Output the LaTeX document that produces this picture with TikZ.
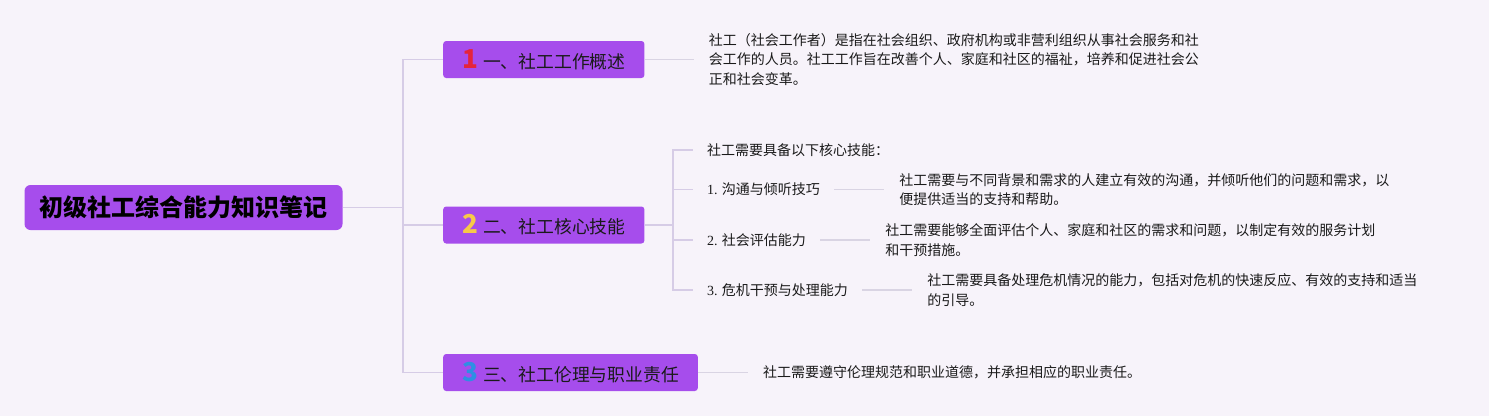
\documentclass[tikz,border=0pt]{standalone}
\usepackage{fontspec}
\setmainfont{Noto Sans CJK SC}
\newfontfamily\numfont{Liberation Serif}
\usetikzlibrary{positioning}

\definecolor{bgcol}{HTML}{F7F3FA}
\definecolor{boxcol}{HTML}{A64DEC}
\definecolor{linecol}{HTML}{D6CCE6}
\definecolor{stubcol}{HTML}{D9D4E3}
\definecolor{txtcol}{HTML}{1A1A1A}
\definecolor{onecol}{HTML}{E5243B}
\definecolor{twocol}{HTML}{F7C948}
\definecolor{threecol}{HTML}{2E8FE3}

\newcommand{\topicnum}[2]{{\fontsize{26}{26}\selectfont\bfseries\color{#1}#2}\hspace{5pt}}

\begin{document}
\begin{tikzpicture}[x=1pt,y=-1pt,
	root/.style={fill=boxcol,rounded corners=6pt,inner xsep=15pt,minimum height=45pt,
		font=\fontsize{24}{26}\selectfont\bfseries},
	topic/.style={fill=boxcol,rounded corners=3pt,inner xsep=19pt,minimum height=37pt,
		anchor=west,text=txtcol,font=\fontsize{17.8}{20}\selectfont},
	sub/.style={anchor=west,inner xsep=14pt,text=txtcol,font=\fontsize{14}{16}\selectfont},
	desc/.style={align=left,inner xsep=15pt,text=txtcol,font=\fontsize{14}{19.5}\selectfont},
	branch/.style={draw=linecol,line width=1.4pt},
	stub/.style={draw=stubcol,line width=1.4pt}]

		\useasboundingbox (0,0) rectangle (1489,416);
		\fill [bgcol] (0,0) rectangle (1489,416);

		\node [root] (root) at (183.5,207.5) {初级社工综合能力知识笔记};

		\node [topic] (t1) at (443,59.5) {\topicnum{onecol}{1}一、社工工作概述};
		\node [topic] (t2) at (443,225) {\topicnum{twocol}{2}二、社工核心技能};
		\node [topic] (t3) at (443,372.5) {\topicnum{threecol}{3}三、社工伦理与职业责任};

		\coordinate (trunk) at (403,207.5);
		\coordinate (hub) at (673,225);

		\draw [branch] (root.east) -- (trunk);
		\draw [branch] (trunk) |- (t1.west);
		\draw [branch] (trunk) |- (t2.west);
		\draw [branch] (trunk) |- (t3.west);

		% 一
		\node [desc, right=49pt of t1] (d1) {社工（社会工作者）是指在社会组织、政府机构或非营利组织从事社会服务和社\\
			会工作的人员。社工工作旨在改善个人、家庭和社区的福祉，培养和促进社会公\\
			正和社会变革。};
		\draw [stub] (t1) -- (d1);

		% 二
		\node [sub] (s0) at (693,150) {社工需要具备以下核心技能：};
		\node [sub] (s1) at (693,189.5) {{\numfont 1.} 沟通与倾听技巧};
		\node [sub] (s2) at (693,240) {{\numfont 2.} 社会评估能力};
		\node [sub] (s3) at (693,290) {{\numfont 3.} 危机干预与处理能力};

		\draw [branch] (t2.east) -- (hub);
		\draw [branch] (hub) |- (s0.west);
		\draw [branch] (hub) |- (s1.west);
		\draw [branch] (hub) |- (s2.west);
		\draw [branch] (hub) |- (s3.west);

		\node [desc, right=50pt of s1] (e1) {社工需要与不同背景和需求的人建立有效的沟通，并倾听他们的问题和需求，以\\
			便提供适当的支持和帮助。};
		\node [desc, right=50pt of s2] (e2) {社工需要能够全面评估个人、家庭和社区的需求和问题，以制定有效的服务计划\\
			和干预措施。};
		\node [desc, right=50pt of s3] (e3) {社工需要具备处理危机情况的能力，包括对危机的快速反应、有效的支持和适当\\
			的引导。};
		\draw [stub] (s1) -- (e1);
		\draw [stub] (s2) -- (e2);
		\draw [stub] (s3) -- (e3);

		% 三
		\node [desc, right=50pt of t3] (d3) {社工需要遵守伦理规范和职业道德，并承担相应的职业责任。};
		\draw [stub] (t3) -- (d3);

\end{tikzpicture}
\end{document}
